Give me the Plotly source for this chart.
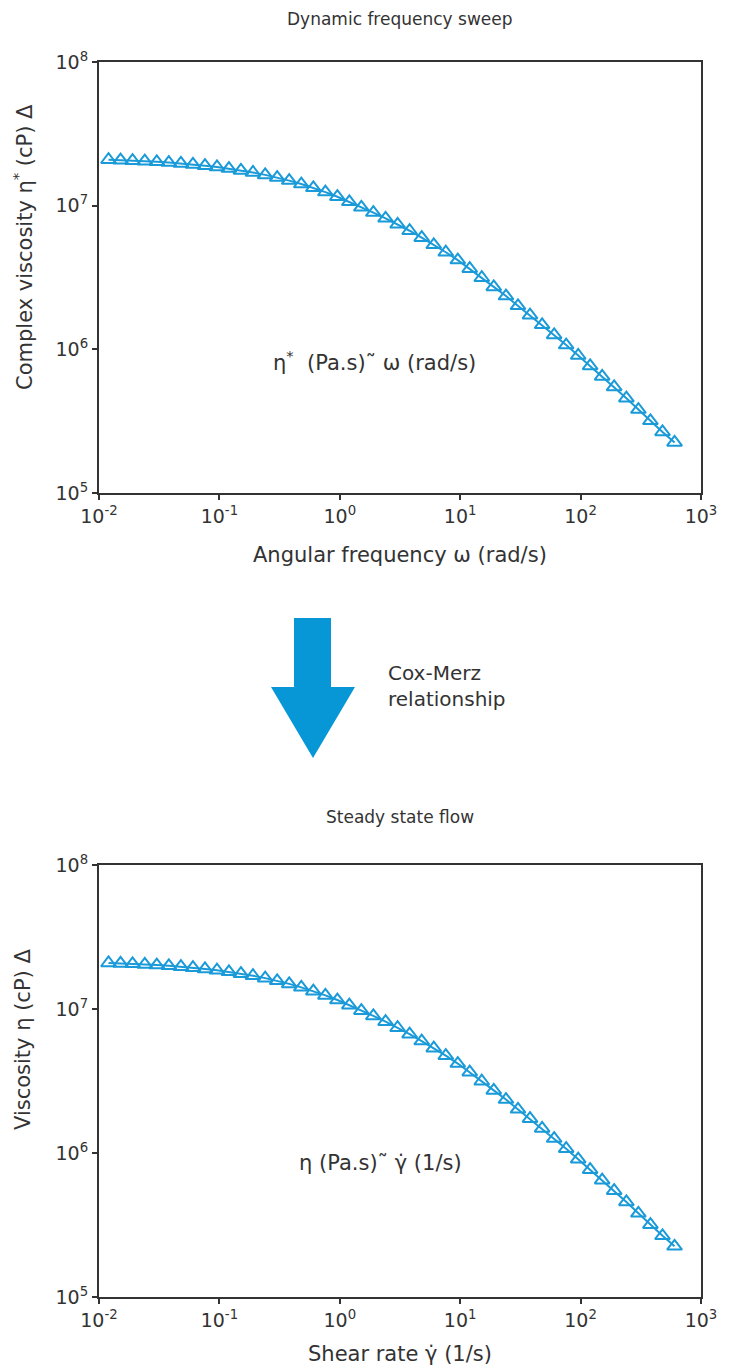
import plotly.graph_objects as go

# ---- data ----
omega = [0.0120, 0.0151, 0.0190, 0.0240, 0.0302, 0.0380, 0.0479, 0.0603, 0.0759, 0.0955,
         0.120, 0.151, 0.190, 0.240, 0.302, 0.380, 0.479, 0.603, 0.759, 0.955,
         1.20, 1.51, 1.90, 2.40, 3.02, 3.80, 4.79, 6.03, 7.59, 9.55,
         12.0, 15.1, 19.0, 24.0, 30.2, 38.0, 47.9, 60.3, 75.9, 95.5,
         120, 151, 190, 240, 302, 380, 479, 603]
eta_complex = [2.087e7, 2.074e7, 2.058e7, 2.040e7, 2.020e7, 1.995e7, 1.967e7, 1.935e7, 1.899e7, 1.858e7,
               1.812e7, 1.760e7, 1.702e7, 1.638e7, 1.569e7, 1.494e7, 1.414e7, 1.330e7, 1.243e7, 1.154e7,
               1.063e7, 9.73e6, 8.95e6, 8.17e6, 7.41e6, 6.69e6, 5.99e6, 5.34e6, 4.74e6, 4.18e6,
               3.64e6, 3.15e6, 2.72e6, 2.35e6, 2.01e6, 1.73e6, 1.48e6, 1.26e6, 1.071e6, 9.06e5,
               7.66e5, 6.48e5, 5.47e5, 4.57e5, 3.81e5, 3.18e5, 2.66e5, 2.25e5]

shear_rate = [0.0120, 0.0151, 0.0190, 0.0240, 0.0302, 0.0380, 0.0479, 0.0603, 0.0759, 0.0955,
              0.120, 0.151, 0.190, 0.240, 0.302, 0.380, 0.479, 0.603, 0.759, 0.955,
              1.20, 1.51, 1.90, 2.40, 3.02, 3.80, 4.79, 6.03, 7.59, 9.55,
              12.0, 15.1, 19.0, 24.0, 30.2, 38.0, 47.9, 60.3, 75.9, 95.5,
              120, 151, 190, 240, 302, 380, 479, 603]
eta_steady = [2.087e7, 2.074e7, 2.058e7, 2.040e7, 2.020e7, 1.995e7, 1.967e7, 1.935e7, 1.899e7, 1.858e7,
              1.812e7, 1.760e7, 1.702e7, 1.638e7, 1.569e7, 1.494e7, 1.414e7, 1.330e7, 1.243e7, 1.154e7,
              1.063e7, 9.73e6, 8.95e6, 8.17e6, 7.41e6, 6.69e6, 5.99e6, 5.34e6, 4.74e6, 4.18e6,
              3.64e6, 3.15e6, 2.72e6, 2.35e6, 2.01e6, 1.73e6, 1.48e6, 1.26e6, 1.071e6, 9.06e5,
              7.66e5, 6.48e5, 5.47e5, 4.57e5, 3.81e5, 3.18e5, 2.66e5, 2.25e5]

x_tickvals = [0.01, 0.1, 1, 10, 100, 1000]
x_ticktext = ["10<sup>-2</sup>", "10<sup>-1</sup>", "10<sup>0</sup>", "10<sup>1</sup>",
              "10<sup>2</sup>", "10<sup>3</sup>"]
y_tickvals = [1e5, 1e6, 1e7, 1e8]
y_ticktext = ["10<sup>5</sup>", "10<sup>6</sup>", "10<sup>7</sup>", "10<sup>8</sup>"]

# ---- style ----
OFF = 8  # default page body margin
W, H = 730 - OFF, 1369 - OFF
FONT = "DejaVu Sans"
TXT = "#333333"
BLUE = "#1a9ad8"
ARROW = "#0797d6"

def px(x):
    return (x - OFF) / W

def py(y):
    return 1 - (y - OFF) / H

fig = go.Figure()

for xs, ys, xa, ya in [(omega, eta_complex, "x", "y"), (shear_rate, eta_steady, "x2", "y2")]:
    fig.add_trace(go.Scatter(
        x=xs, y=ys, xaxis=xa, yaxis=ya, mode="lines+markers",
        line=dict(color=BLUE, width=2),
        marker=dict(symbol="triangle-up-open", size=13, color=BLUE, line=dict(width=2, color=BLUE)),
        showlegend=False, hoverinfo="skip"))

axis_common = dict(showgrid=False, zeroline=False, showline=True, linecolor=TXT, linewidth=2,
                   mirror=True, ticks="outside", ticklen=5, tickwidth=1.5, tickcolor=TXT,
                   automargin=False,
                   tickfont=dict(family=FONT, size=19, color=TXT), type="log")

xdom = [px(99), px(701)]
fig.update_layout(
    template="none",
    width=W, height=H, margin=dict(l=0, r=0, t=0, b=0, pad=0),
    paper_bgcolor="white", plot_bgcolor="white", showlegend=False,
    xaxis=dict(axis_common, domain=xdom, range=[-2, 3], tickvals=x_tickvals, ticktext=x_ticktext, anchor="y"),
    yaxis=dict(axis_common, domain=[py(493), py(62)], range=[5, 8], tickvals=y_tickvals, ticktext=y_ticktext, anchor="x"),
    xaxis2=dict(axis_common, domain=xdom, range=[-2, 3], tickvals=x_tickvals, ticktext=x_ticktext, anchor="y2"),
    yaxis2=dict(axis_common, domain=[py(1297), py(865)], range=[5, 8], tickvals=y_tickvals, ticktext=y_ticktext, anchor="x2"),
)

def ann(text, x, y, size=16, angle=0, xanchor="center", align="center"):
    fig.add_annotation(text=text, xref="paper", yref="paper", x=px(x), y=py(y),
                       xanchor=xanchor, yanchor="middle", showarrow=False, textangle=angle,
                       align=align, font=dict(family=FONT, size=size, color=TXT))

ann("Dynamic frequency sweep", 400, 19, size=17)
ann("Steady state flow", 400, 817, size=17)
ann("Complex viscosity η<sup>*</sup> (cP) Δ", 23, 247, size=21, angle=-90)
ann("Viscosity η (cP) Δ", 23, 1040, size=21, angle=-90)
ann("Angular frequency ω (rad/s)", 400, 555, size=21)
ann("Shear rate γ̇ (1/s)", 400, 1354, size=21)
ann("η<sup>*</sup>  (Pa.s)˜ ω (rad/s)", 374, 361, size=21)
ann("η (Pa.s)˜ γ̇ (1/s)", 380, 1163, size=21)
ann("Cox-Merz<br>relationship", 386, 686, size=20, xanchor="left", align="left")

# big blue arrow
path = (f"M {px(294)} {py(618)} L {px(331)} {py(618)} L {px(331)} {py(687)} "
        f"L {px(355)} {py(687)} L {px(313)} {py(758)} L {px(271)} {py(687)} "
        f"L {px(294)} {py(687)} Z")
fig.add_shape(type="path", xref="paper", yref="paper", path=path,
              fillcolor=ARROW, line=dict(width=0))

fig.write_html("out.html")
